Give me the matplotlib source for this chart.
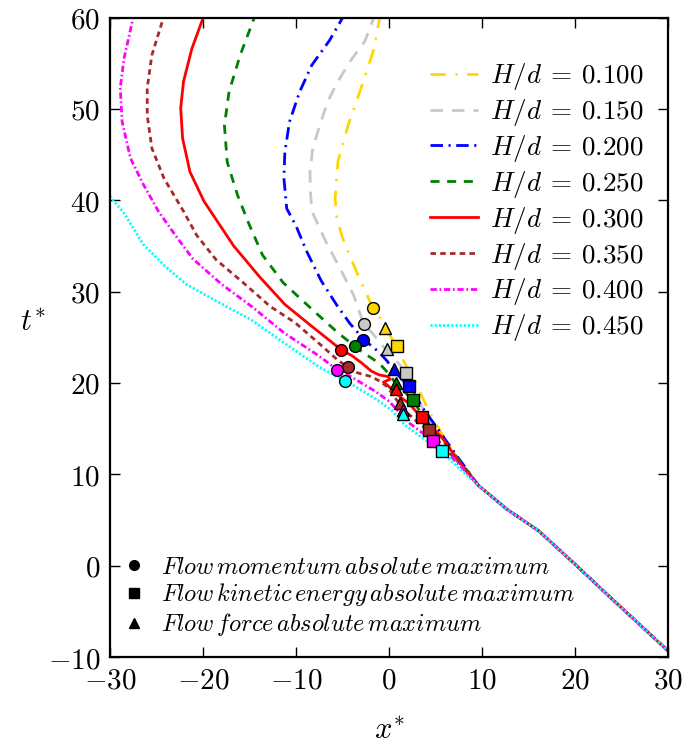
import numpy as np
import matplotlib
matplotlib.use("Agg")
import matplotlib.pyplot as plt
from matplotlib.lines import Line2D

plt.rcParams['mathtext.fontset'] = 'cm'
plt.rcParams['font.family'] = 'DejaVu Serif'
plt.rcParams['lines.scale_dashes'] = False

# H/d cases
hd_labels = ['0.100', '0.150', '0.200', '0.250', '0.300', '0.350', '0.400', '0.450']
colors = ['gold', '#c8c8c8', 'blue', 'green', 'red', 'brown', 'magenta', 'cyan']

# trajectories (x*, t*), top -> bottom
x_100 = [-0.9, -1.7, -3.0, -4.4, -5.5, -5.8, -5.6, -5.0, -3.55, -1.9, -1.0, -0.2, 0.5, 1.1, 2.0, 2.8, 3.7, 4.65, 5.6, 6.6, 7.6]
t_100 = [60.5, 56.3, 52.3, 48.2, 44.2, 40.2, 38.0, 35.9, 32.3, 28.6, 27.2, 25.8, 24.5, 23.3, 21.6, 20.1, 18.2, 16.2, 14.6, 13.0, 11.4]

x_150 = [-1.45, -2.6, -4.2, -5.5, -6.6, -7.45, -8.2, -8.5, -8.45, -8.3, -6.8, -5.3, -3.8, -2.75, -1.75, -0.3, 0.8, 1.8, 2.5, 3.2, 4.1, 5.05, 6.3, 7.6]
t_150 = [60.5, 57.4, 55.2, 53.0, 50.8, 48.2, 45.7, 43.1, 41.0, 38.8, 35.5, 32.6, 29.6, 26.5, 25.4, 23.6, 22.4, 21.3, 19.8, 18.1, 16.3, 14.8, 13.2, 11.5]

x_200 = [-4.7, -6.4, -8.3, -9.6, -10.7, -11.2, -11.3, -11.0, -10.0, -8.9, -7.3, -5.6, -4.2, -2.65, -1.1, -0.2, 0.5, 1.3, 2.2, 3.0, 3.8, 4.95, 6.05, 7.6]
t_200 = [60.5, 57.5, 54.8, 51.9, 48.6, 45.3, 42.4, 39.1, 37.2, 34.5, 31.2, 28.5, 26.5, 24.7, 23.4, 22.4, 21.4, 20.5, 19.6, 18.3, 17.0, 15.4, 13.8, 11.6]

x_250 = [-14.3, -16.0, -17.2, -17.7, -17.4, -16.3, -15.1, -13.6, -11.4, -8.0, -5.5, -3.65, -2.75, -1.1, -0.1, 0.7, 1.6, 2.6, 3.5, 4.55, 5.85, 7.6]
t_250 = [60.5, 55.9, 51.9, 48.2, 44.2, 40.6, 37.5, 34.0, 31.0, 27.8, 25.5, 24.0, 23.3, 22.2, 21.1, 20.0, 19.1, 18.1, 16.6, 15.2, 13.6, 11.5]

x_300 = [-19.8, -21.2, -22.1, -22.4, -22.2, -21.4, -19.9, -18.4, -16.7, -13.9, -11.2, -8.3, -6.2, -5.1, -4.0, -2.95, -1.9, -1.1, -0.1, 0.1, -0.6, -0.1, 0.5, 1.3, 2.1, 2.9, 3.7, 4.75, 5.65, 6.55, 7.6]
t_300 = [60.5, 56.6, 53.0, 50.1, 46.8, 43.1, 39.9, 37.6, 35.0, 31.6, 28.6, 26.2, 24.5, 23.6, 23.0, 22.2, 21.3, 20.9, 20.7, 20.4, 20.1, 19.7, 19.1, 18.4, 17.8, 16.9, 16.1, 15.0, 14.1, 12.8, 11.3]

x_350 = [-24.1, -25.5, -26.0, -26.0, -25.5, -24.2, -22.1, -20.7, -18.6, -15.7, -12.8, -10.1, -7.6, -5.5, -4.4, -3.35, -1.9, -1.0, -0.2, 0.5, 1.2, 2.1, 3.2, 4.35, 5.45, 6.55, 7.6]
t_350 = [60.5, 55.9, 52.3, 49.3, 45.7, 42.4, 38.8, 36.2, 33.5, 31.0, 28.4, 26.6, 24.4, 22.5, 21.7, 21.1, 20.7, 20.2, 19.6, 18.6, 17.6, 16.6, 15.6, 14.7, 13.5, 12.3, 11.2]

x_400 = [-27.4, -28.5, -28.9, -28.7, -27.8, -26.4, -24.8, -23.0, -21.1, -18.0, -14.8, -11.3, -7.6, -5.5, -4.1, -1.5, 0.0, 1.0, 2.2, 3.5, 4.95, 6.05, 7.6]
t_400 = [60.5, 55.5, 52.3, 48.6, 44.6, 41.7, 38.8, 36.2, 33.6, 30.8, 28.4, 25.5, 23.0, 21.4, 20.7, 19.1, 18.0, 16.9, 15.6, 14.6, 13.6, 12.6, 11.0]

x_450 = [-30.3, -29.8, -28.5, -26.45, -24.1, -21.8, -18.45, -14.8, -11.3, -7.6, -4.1, -1.5, 0.3, 1.7, 3.85, 5.95, 7.6]
t_450 = [40.8, 40.2, 38.6, 35.2, 32.8, 30.8, 28.9, 26.9, 24.4, 21.8, 19.9, 18.3, 17.0, 15.4, 13.8, 12.2, 10.6]

# common tail where all the cases collapse
tail_x = [9.6, 12.65, 16.1, 19.75, 23.3, 26.8, 30.4]
tail_t = [8.8, 6.2, 3.8, 0.4, -3.0, -6.3, -9.7]

xs = [x_100, x_150, x_200, x_250, x_300, x_350, x_400, x_450]
ts = [t_100, t_150, t_200, t_250, t_300, t_350, t_400, t_450]

# maxima markers (x*, t*) per case
mom_x = [-1.75, -2.65, -2.75, -3.65, -5.2, -4.45, -5.6, -4.75]
mom_t = [28.2, 26.5, 24.7, 24.0, 23.6, 21.7, 21.4, 20.2]
ke_x = [0.9, 1.8, 2.2, 2.6, 3.5, 4.35, 4.75, 5.75]
ke_t = [24.1, 21.1, 19.7, 18.1, 16.3, 14.8, 13.7, 12.5]
f_x = [-0.4, -0.2, 0.5, 0.7, 0.8, 1.2, 1.5, 1.5]
f_t = [26.0, 23.7, 21.5, 20.0, 19.3, 17.8, 17.0, 16.6]

xticks = [-30, -20, -10, 0, 10, 20, 30]
yticks = [-10, 0, 10, 20, 30, 40, 50, 60]

dash_styles = [(0, (11, 7, 1.5, 7)), (0, (9, 6.5)), (0, (9, 4, 1.5, 4)), (0, (6.5, 5.5)),
               '-', (0, (4, 3)), (0, (4.5, 2, 1.2, 2)), (0, (1.5, 1.5))]

fig = plt.figure(figsize=(6.89, 7.49), dpi=100)
ax = fig.add_axes([0.1597, 0.1228, 0.8098, 0.8537])

handles = []
for i in range(len(hd_labels)):
    ln, = ax.plot(xs[i] + tail_x, ts[i] + tail_t, color=colors[i], ls=dash_styles[i],
                  lw=2, label=r'$H/d\:=\:%s$' % hd_labels[i])
    handles.append(ln)

for i in range(len(hd_labels)):
    ax.plot(mom_x[i], mom_t[i], 'o', color=colors[i], mec='k', mew=1, ms=8.5, zorder=5)
    ax.plot(ke_x[i], ke_t[i], 's', color=colors[i], mec='k', mew=1, ms=8, zorder=5)
    ax.plot(f_x[i], f_t[i], '^', color=colors[i], mec='k', mew=1, ms=8.5, zorder=5)

ax.set_xlim(-30, 30)
ax.set_ylim(-10, 60)
ax.set_xticks(xticks, labels=['$%d$' % v for v in xticks])
ax.set_yticks(yticks, labels=['$%d$' % v for v in yticks])
ax.tick_params(direction='in', length=7, width=1, top=True, right=True, labelsize=21, pad=7)
for s in ax.spines.values():
    s.set_linewidth(1.6)

ax.set_xlabel(r'$x^{*}$', fontsize=22, labelpad=14)
ax.set_ylabel(r'$t^{*}$', fontsize=22, rotation=0, labelpad=11)

leg1 = ax.legend(handles=handles, loc='upper right', bbox_to_anchor=(1.0, 0.97), frameon=False,
                 fontsize=19.5, handlelength=1.75, labelspacing=0.18, handletextpad=0.45)
ax.add_artist(leg1)

mk = [Line2D([], [], ls='none', marker='o', color='k', ms=7),
      Line2D([], [], ls='none', marker='s', color='k', ms=6.5),
      Line2D([], [], ls='none', marker='^', color='k', ms=7)]
mk_labels = [r'$Flow\,momentum\,absolute\,maximum$',
             r'$Flow\,kinetic\,energy\,absolute\,maximum$',
             r'$Flow\,force\,absolute\,maximum$']
ax.legend(handles=mk, labels=mk_labels, loc='lower left', bbox_to_anchor=(0.004, 0.014), frameon=False,
          borderaxespad=0, fontsize=17.5, handlelength=1.0, labelspacing=0.12, handletextpad=0.6)

fig.savefig('out.png', dpi=100)
